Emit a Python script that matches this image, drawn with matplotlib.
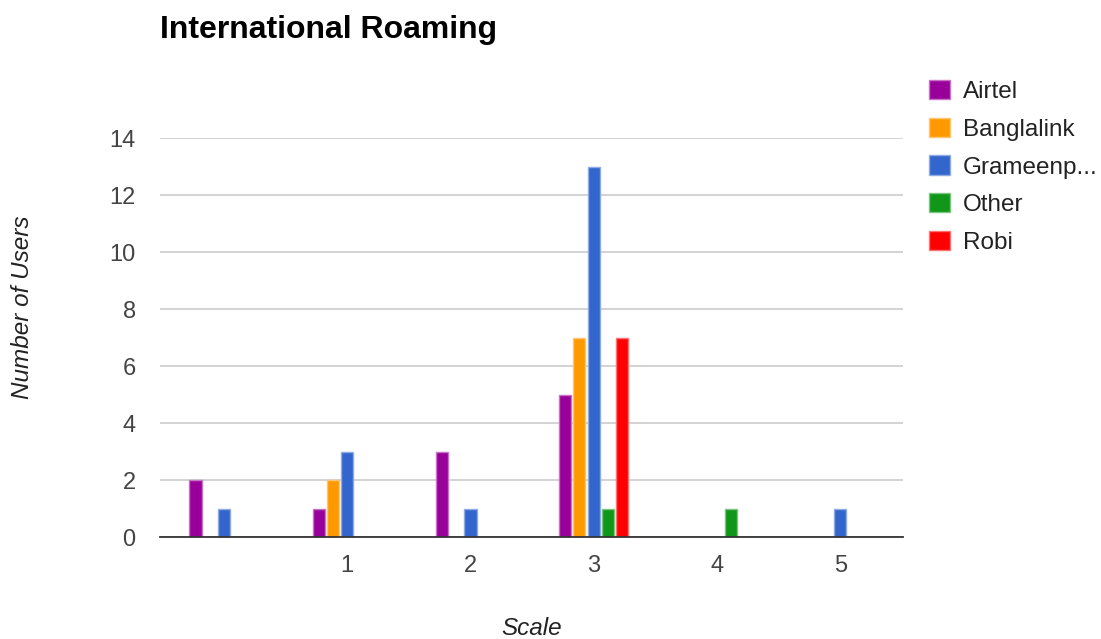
import numpy as np
import matplotlib.pyplot as plt
from matplotlib.patches import Patch
from matplotlib.colors import to_rgb

plt.rcParams['font.family'] = ['Liberation Sans', 'DejaVu Sans']

categories = ["", "1", "2", "3", "4", "5"]
series = ["Airtel", "Banglalink", "Grameenp...", "Other", "Robi"]
airtel = [2, 1, 3, 5, 0, 0]
banglalink = [0, 2, 0, 7, 0, 0]
grameenphone = [1, 3, 1, 13, 0, 1]
other = [0, 0, 0, 1, 1, 0]
robi = [0, 0, 0, 7, 0, 0]
colors = ["#990099", "#ff9900", "#3366cc", "#109618", "#ff0000"]


def lighter(c, amt=0.45):
    r, g, b = to_rgb(c)
    return (r + (1 - r) * amt, g + (1 - g) * amt, b + (1 - b) * amt)


fig = plt.figure(figsize=(11.01, 6.39), dpi=100)
ax = fig.add_axes([0.1453, 0.1596, 0.6749, 0.6244])

x = np.arange(len(categories))
step = 0.116
width = 0.098
values = [airtel, banglalink, grameenphone, other, robi]
for i, (vals, col) in enumerate(zip(values, colors)):
    vals = np.array(vals)
    mask = vals > 0
    ax.bar(x[mask] + (i - 2) * step, vals[mask], width=width, color=col,
           edgecolor=lighter(col), linewidth=1, zorder=3)

ax.set_xlim(-0.52, 5.51)
ax.set_ylim(0, 14)
ax.set_yticks(range(0, 15, 2))
ax.set_xticks(x)
ax.set_xticklabels(categories)
ax.grid(axis='y', color='#cccccc', linewidth=1.2, zorder=0)
for s in ['top', 'right', 'left']:
    ax.spines[s].set_visible(False)
ax.spines['bottom'].set_color('#333333')
ax.spines['bottom'].set_linewidth(1.3)
ax.spines['bottom'].set_zorder(4)
ax.tick_params(axis='both', length=0, labelsize=17, labelcolor='#444444')
ax.tick_params(axis='x', pad=13)
ax.tick_params(axis='y', pad=17.5)

ax.set_xlabel("Scale", fontsize=17.5, style='italic', color='#222222', labelpad=29)
ax.set_ylabel("Number of Users", fontsize=17.5, style='italic', color='#222222', labelpad=54)
ax.yaxis.label.set_y(0.576)
fig.text(0.1453, 0.953, "International Roaming", fontsize=23, fontweight='bold',
         ha='left', va='center')

handles = [Patch(facecolor=c, edgecolor=lighter(c), linewidth=1) for c in colors]
fig.legend(handles, series, loc='upper left', bbox_to_anchor=(0.835, 0.89),
           frameon=False, fontsize=17.5, labelcolor='#222222',
           handlelength=0.85, handleheight=0.85, handletextpad=0.55,
           labelspacing=0.6, borderaxespad=0)

fig.savefig("out.png", dpi=100)
